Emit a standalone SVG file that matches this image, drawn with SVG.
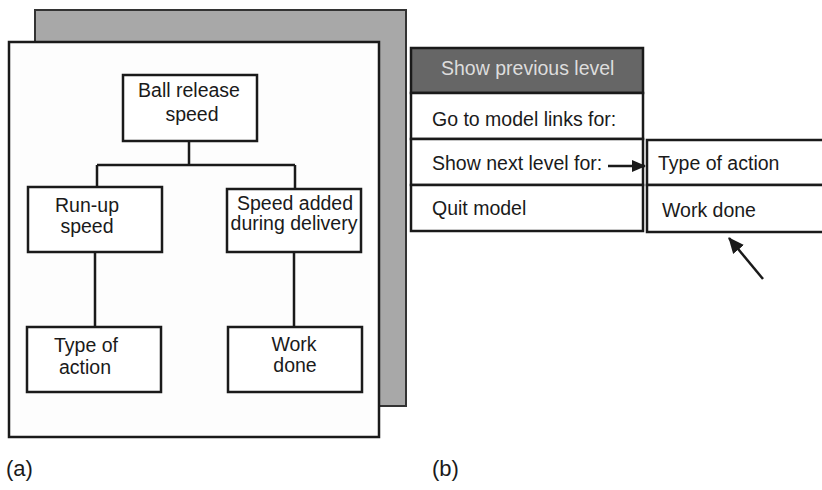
<svg xmlns="http://www.w3.org/2000/svg" width="822" height="490" viewBox="0 0 822 490">
<defs>
<style>
.t{font-family:"Liberation Sans",Arial,sans-serif;font-size:19.5px;fill:#1a1a1a}
.c{text-anchor:middle}
.box{fill:#fff;stroke:#1a1a1a;stroke-width:2.5}
.ln{stroke:#1a1a1a;stroke-width:2.5;fill:none}
</style>
<marker id="ah" markerWidth="14" markerHeight="14" refX="13" refY="7" orient="auto" markerUnits="userSpaceOnUse" viewBox="0 0 14 14">
<path d="M0,1 L14,7 L0,13 z" fill="#1a1a1a"/>
</marker>
<marker id="ah2" markerWidth="16" markerHeight="16" refX="15" refY="8" orient="auto" markerUnits="userSpaceOnUse" viewBox="0 0 16 16">
<path d="M0,1 L16,8 L0,15 z" fill="#1a1a1a"/>
</marker>
</defs>
<rect width="822" height="490" fill="#fff"/>
<g id="panel-back"><rect x="35" y="10" width="371" height="396" fill="#a8a8a8" stroke="#333" stroke-width="2"/></g>
<g id="panel-front"><rect x="9" y="42" width="370" height="395" fill="#fdfdfd" stroke="#1a1a1a" stroke-width="2.5"/></g>
<g id="ball-release-speed"><rect class="box" x="123" y="75" width="134" height="66"/><text class="t c" x="189" y="97">Ball release</text><text class="t c" x="192" y="121">speed</text></g>
<g id="run-up-speed"><rect class="box" x="28" y="187" width="134" height="65"/><text class="t c" x="87" y="212">Run-up</text><text class="t c" x="87" y="233">speed</text></g>
<g id="speed-added"><rect class="box" x="227" y="189" width="134" height="63"/><text class="t c" x="295" y="210">Speed added</text><text class="t c" x="294" y="230">during delivery</text></g>
<g id="type-of-action"><rect class="box" x="27" y="327" width="134" height="65"/><text class="t c" x="86" y="352">Type of</text><text class="t c" x="85" y="374">action</text></g>
<g id="work-done"><rect class="box" x="228" y="327" width="134" height="65"/><text class="t c" x="294" y="351">Work</text><text class="t c" x="295" y="372">done</text></g>
<g id="show-previous-level"><rect x="411" y="48" width="232" height="45" fill="#666" stroke="#1a1a1a" stroke-width="2.5"/><text class="t" x="441" y="75" style="fill:#ddd">Show previous level</text></g>
<g id="go-to-model-links"><rect class="box" x="411" y="93" width="232" height="46"/><text class="t" x="432" y="126">Go to model links for:</text></g>
<g id="show-next-level"><rect class="box" x="411" y="139" width="232" height="46"/><text class="t" x="432" y="170">Show next level for:</text></g>
<g id="quit-model"><rect class="box" x="411" y="185" width="232" height="46"/><text class="t" x="432" y="215">Quit model</text></g>
<g id="menu-type-of-action"><rect class="box" x="647" y="140" width="190" height="45"/><text class="t" x="658" y="170">Type of action</text></g>
<g id="menu-work-done"><rect class="box" x="647" y="185" width="190" height="47"/><text class="t" x="662" y="217">Work done</text></g>
<g id="connectors">
<path class="ln" d="M189,141 V165 M97,165 H295 M97,165 V187 M295,165 V189 M95,252 V327 M294,252 V327"/>
<line class="ln" x1="608" y1="166" x2="645" y2="166" marker-end="url(#ah)"/>
<line class="ln" x1="763" y1="279" x2="729" y2="238" marker-end="url(#ah2)"/>
</g>
<g id="labels"><text class="t" x="6" y="476" style="font-size:22px">(a)</text><text class="t" x="432" y="476" style="font-size:22px">(b)</text></g>
</svg>
